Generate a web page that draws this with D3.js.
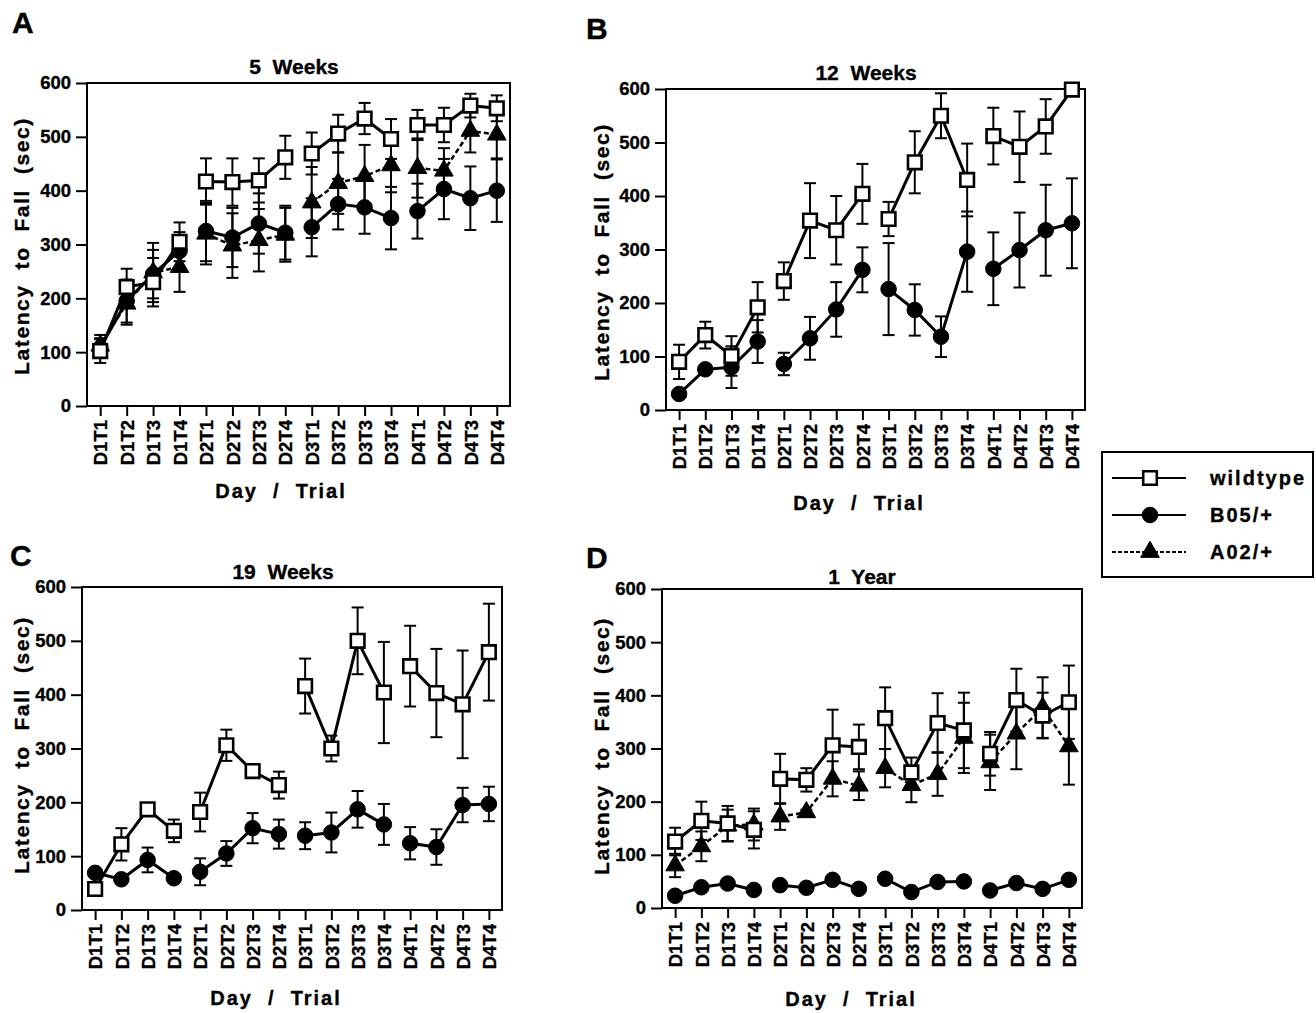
<!DOCTYPE html>
<html>
<head>
<meta charset="utf-8">
<script src="https://d3js.org/d3.v7.min.js"></script>
<style>
  body { margin: 0; padding: 0; background: #fff; }
  svg { display: block; }
  text { font-family: "Liberation Sans", Arial, Helvetica, sans-serif; font-weight: bold; fill: #000;
         stroke: #000; stroke-width: 0.35px; }
</style>
</head>
<body>
<div id="chart"></div>
<script>
// ---- data ----
var trials = ["D1T1","D1T2","D1T3","D1T4","D2T1","D2T2","D2T3","D2T4",
              "D3T1","D3T2","D3T3","D3T4","D4T1","D4T2","D4T3","D4T4"];
var yTicks = [0, 100, 200, 300, 400, 500, 600];
var panelLetters = ["A", "B", "C", "D"];
var panelTitles = ["5  Weeks", "12  Weeks", "19  Weeks", "1  Year"];
var seriesNames = ["wildtype", "B05/+", "A02/+"];

// 5 weeks
var wt5     = [102,221,230,305,417,416,419,462,469,506,534,496,522,522,558,553];
var wt5Err  = [ 22, 34, 45, 36, 43, 44, 41, 40, 39, 35, 29, 37, 28, 32, 22, 24];
var b05_5   = [108,195,245,288,325,313,339,322,332,375,369,349,362,403,386,400];
var b05_5Err= [ 18, 40, 45, 35, 56, 55, 56, 50, 54, 47, 49, 58, 51, 56, 59, 58];
var a02_5   = [112,190,248,258,320,298,308,318,378,414,427,447,442,437,511,504];
var a02_5Err= [ 20, 39, 55, 46, 57, 60, 58, 50, 66, 57, 58, 50, 55, 42, 40, 44];

// 12 weeks
var wt12     = [ 90,140,101,192,241,354,336,404,357,463,550,430,512,492,530,599];
var wt12Err  = [ 32, 25, 37, 47, 35, 70, 64, 56, 32, 58, 42, 68, 53, 66, 51,  0];
var b05_12   = [ 30, 76, 80,128, 86,134,188,262,226,187,137,296,264,299,336,349];
var b05_12Err= [  4,  4, 39, 40, 21, 40, 51, 42, 86, 48, 38, 75, 68, 70, 85, 84];

// 19 weeks
var wt19     = [ 39,122,187,147,182,306,258,232,416,300,500,404,453,403,382,479];
var wt19Err  = [  4, 30,  4, 21, 36, 29,  4, 25, 51, 24, 62, 94, 75, 82,100, 90];
var b05_19   = [ 69, 57, 93, 59, 71,105,152,141,138,144,187,159,124,117,195,197];
var b05_19Err= [  4,  3, 23,  3, 25, 23, 28, 27, 25, 37, 34, 38, 30, 33, 32, 32];

// 1 year
var wt1y     = [125,164,159,147,243,241,306,303,357,255,348,334,290,391,362,387];
var wt1yErr  = [ 26, 36, 33, 35, 47, 22, 67, 42, 58, 28, 56, 71, 41, 59, 43, 69];
var b05_1y   = [ 23, 39, 46, 34, 43, 38, 53, 36, 55, 30, 49, 50, 33, 47, 36, 53];
var b05_1yErr= [  4,  4,  4,  4,  4,  4,  4,  4,  4,  4,  4,  4,  4,  4,  4,  4];
var a02_1y   = [ 80,116,155,157,172,180,243,230,263,231,252,320,274,328,377,304];
var a02_1yErr= [ 22, 28, 30, 30, 25,  5, 33, 27, 36, 32, 41, 66, 52, 67, 57, 72];

var panelData = [
  [ {name: "A02/+", v: a02_5, e: a02_5Err}, {name: "B05/+", v: b05_5, e: b05_5Err}, {name: "wildtype", v: wt5, e: wt5Err} ],
  [ {name: "B05/+", v: b05_12, e: b05_12Err}, {name: "wildtype", v: wt12, e: wt12Err} ],
  [ {name: "B05/+", v: b05_19, e: b05_19Err}, {name: "wildtype", v: wt19, e: wt19Err} ],
  [ {name: "A02/+", v: a02_1y, e: a02_1yErr}, {name: "B05/+", v: b05_1y, e: b05_1yErr}, {name: "wildtype", v: wt1y, e: wt1yErr} ]
];

// ---- layout ----
var width = 1316, height = 1013;
var frames = [
  {x0: 87,  x1: 510,  y0: 83,  y1: 406, letter: [12, 33],  titleX: 294, titleY: 74,  xlabX: 281, xlabY: 498,  ylabX: 21,  ylabY: 246},
  {x0: 666, x1: 1085, y0: 89,  y1: 410, letter: [586, 39], titleX: 866, titleY: 80,  xlabX: 859, xlabY: 510,  ylabX: 601, ylabY: 252},
  {x0: 82,  x1: 502,  y0: 587, y1: 910, letter: [10, 566], titleX: 283, titleY: 579, xlabX: 276, xlabY: 1005, ylabX: 21,  ylabY: 745},
  {x0: 662, x1: 1082, y0: 589, y1: 908, letter: [586, 568], titleX: 862, titleY: 584, xlabX: 851, xlabY: 1006, ylabX: 601, ylabY: 746}
];

var style = {
  "wildtype": {symbol: d3.symbolSquare, size: 185, fill: "#fff", dash: null, lw: 3},
  "B05/+":    {symbol: d3.symbolCircle, size: 190, fill: "#000", dash: null, lw: 3},
  "A02/+":    {symbol: d3.symbolTriangle, size: 150, fill: "#000", dash: "5,3", lw: 2.5}
};

var svg = d3.select("#chart").append("svg")
    .attr("width", width)
    .attr("height", height);

svg.append("rect").attr("width", width).attr("height", height).attr("fill", "#fff");

frames.forEach(function (f, pi) {
  var g = svg.append("g");

  var x = d3.scalePoint().domain(trials).range([f.x0, f.x1]).padding(0.5);
  var y = d3.scaleLinear().domain([0, 600]).range([f.y1, f.y0]);

  // axes
  var yAxis = g.append("g")
      .attr("transform", "translate(" + f.x0 + ",0)")
      .call(d3.axisLeft(y).tickValues(yTicks).tickSize(11).tickPadding(5));
  yAxis.select(".domain").remove();
  yAxis.selectAll("line").attr("stroke", "#000").attr("stroke-width", 2);
  yAxis.selectAll("text").style("font-size", "18.5px").attr("font-family", null);

  var xAxis = g.append("g")
      .attr("transform", "translate(0," + f.y1 + ")")
      .call(d3.axisBottom(x).tickSize(10).tickPadding(4));
  xAxis.select(".domain").remove();
  xAxis.selectAll("line").attr("stroke", "#000").attr("stroke-width", 2);
  xAxis.selectAll("text")
      .style("font-size", "18.5px")
      .attr("font-family", null)
      .attr("transform", "rotate(-90)")
      .attr("text-anchor", "end")
      .attr("x", -14)
      .attr("y", 0)
      .attr("dy", "0.36em");

  // frame
  g.append("rect")
      .attr("x", f.x0).attr("y", f.y0)
      .attr("width", f.x1 - f.x0).attr("height", f.y1 - f.y0)
      .attr("fill", "none").attr("stroke", "#000").attr("stroke-width", 2);

  // titles
  g.append("text").attr("x", f.letter[0]).attr("y", f.letter[1])
      .style("font-size", "30px").text(panelLetters[pi]);
  g.append("text").attr("x", f.titleX).attr("y", f.titleY)
      .attr("text-anchor", "middle").style("font-size", "21px")
      .style("white-space", "pre").text(panelTitles[pi]);
  g.append("text").attr("x", f.xlabX).attr("y", f.xlabY)
      .attr("text-anchor", "middle").style("font-size", "20px")
      .style("letter-spacing", "2px").style("white-space", "pre")
      .text("Day  /  Trial");
  g.append("text")
      .attr("transform", "translate(" + f.ylabX + "," + f.ylabY + ") rotate(-90)")
      .attr("text-anchor", "middle").attr("dy", "0.36em")
      .style("font-size", "21px").style("letter-spacing", "1.6px")
      .style("white-space", "pre")
      .text("Latency  to  Fall  (sec)");

  var series = panelData[pi];
  var days = [0, 1, 2, 3];
  var capW = 6;

  // error bars
  series.forEach(function (s) {
    var eb = g.append("g").attr("stroke", "#000").attr("stroke-width", 2);
    s.v.forEach(function (v, i) {
      var cx = x(trials[i]);
      var hi = y(v + s.e[i]), lo = y(v - s.e[i]);
      eb.append("line").attr("x1", cx).attr("x2", cx).attr("y1", hi).attr("y2", lo);
      eb.append("line").attr("x1", cx - capW).attr("x2", cx + capW).attr("y1", hi).attr("y2", hi);
      eb.append("line").attr("x1", cx - capW).attr("x2", cx + capW).attr("y1", lo).attr("y2", lo);
    });
  });

  // lines, broken by day
  var line = d3.line()
      .x(function (d) { return x(d.t); })
      .y(function (d) { return y(d.v); });
  series.forEach(function (s) {
    var st = style[s.name];
    days.forEach(function (d) {
      var pts = [];
      for (var k = 0; k < 4; k++) {
        pts.push({t: trials[d * 4 + k], v: s.v[d * 4 + k]});
      }
      g.append("path")
          .datum(pts)
          .attr("d", line)
          .attr("fill", "none")
          .attr("stroke", "#000")
          .attr("stroke-width", st.lw)
          .attr("stroke-dasharray", st.dash);
    });
  });

  // markers
  series.forEach(function (s) {
    var st = style[s.name];
    g.selectAll(null)
        .data(s.v)
        .enter().append("path")
        .attr("transform", function (v, i) { return "translate(" + x(trials[i]) + "," + y(v) + ")"; })
        .attr("d", d3.symbol().type(st.symbol).size(st.size))
        .attr("fill", st.fill)
        .attr("stroke", "#000")
        .attr("stroke-width", s.name === "wildtype" ? 2.6 : 1);
  });
});

// ---- legend ----
var leg = svg.append("g");
leg.append("rect")
    .attr("x", 1102).attr("y", 452).attr("width", 211).attr("height", 125)
    .attr("fill", "#fff").attr("stroke", "#000").attr("stroke-width", 2);
var legY = d3.scalePoint().domain(seriesNames).range([478, 552]);
seriesNames.forEach(function (n) {
  var st = style[n];
  var yy = legY(n);
  leg.append("line")
      .attr("x1", 1112).attr("x2", 1186).attr("y1", yy).attr("y2", yy)
      .attr("stroke", "#000").attr("stroke-width", n === "A02/+" ? 1.8 : 2)
      .attr("stroke-dasharray", n === "A02/+" ? "4,2" : null);
  leg.append("path")
      .attr("transform", "translate(1150," + yy + ")")
      .attr("d", d3.symbol().type(st.symbol).size(st.size))
      .attr("fill", st.fill).attr("stroke", "#000")
      .attr("stroke-width", n === "wildtype" ? 2.6 : 1);
  leg.append("text")
      .attr("x", 1210).attr("y", yy).attr("dy", "0.36em")
      .style("font-size", "20px").style("letter-spacing", "2px")
      .text(n);
});
</script>
</body>
</html>
